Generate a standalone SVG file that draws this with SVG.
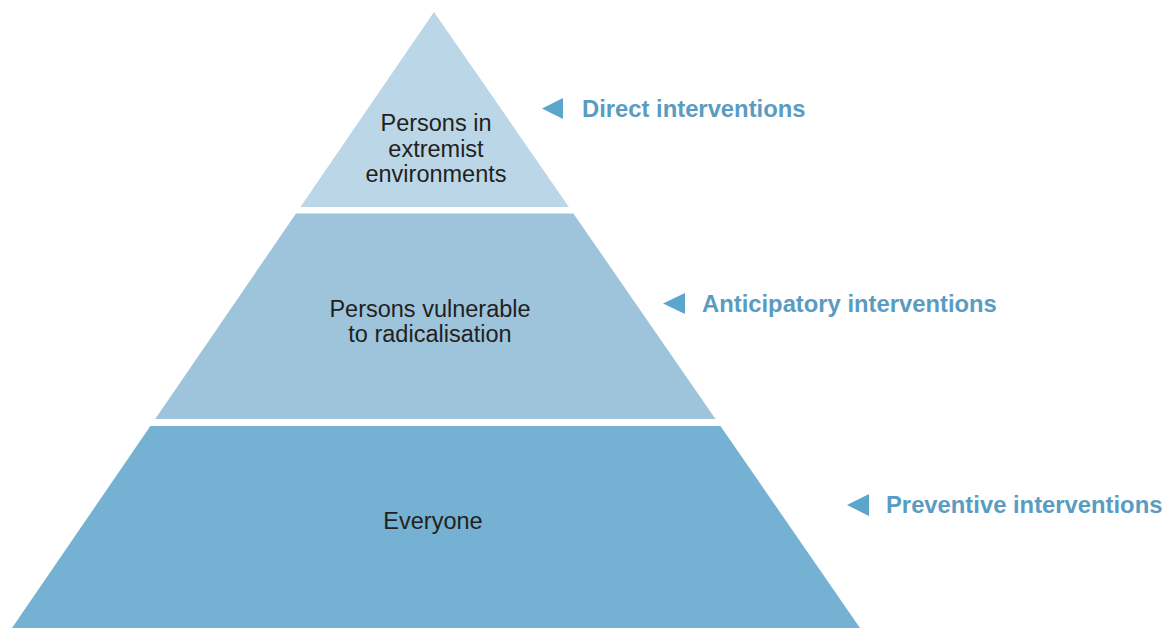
<svg xmlns="http://www.w3.org/2000/svg" width="1165" height="628" viewBox="0 0 1165 628">
<style>
.tier-text{font-family:"Liberation Sans",Arial,sans-serif;font-size:23.5px;fill:#231f20;text-anchor:middle}
.label{font-family:"Liberation Sans",Arial,sans-serif;font-size:23.8px;font-weight:bold;fill:#5a9cc1}
.arrow{fill:#5aa6cd}
</style>
<rect width="1165" height="628" fill="#ffffff"/>
<g id="tier-top">
<polygon points="434,12 568.9,207 300.4,207" fill="#bad6e7"/>
<text class="tier-text" x="436" y="131">Persons in</text>
<text class="tier-text" x="436" y="157">extremist</text>
<text class="tier-text" x="436" y="182">environments</text>
</g>
<g id="tier-middle">
<polygon points="296,213.5 573.4,213.5 715.5,419 155.2,419" fill="#9dc4db"/>
<text class="tier-text" x="430" y="317">Persons vulnerable</text>
<text class="tier-text" x="430" y="342">to radicalisation</text>
</g>
<g id="tier-bottom">
<polygon points="150.4,426 720.4,426 860,628 12,628" fill="#75b1d2"/>
<text class="tier-text" x="433" y="529">Everyone</text>
</g>
<g id="connectors">
<polygon class="arrow" points="542,108.5 563,98 563,119"/>
<polygon class="arrow" points="663,303.5 685,293 685,314"/>
<polygon class="arrow" points="847,505 869,494 869,516"/>
</g>
<g id="label-direct">
<text class="label" x="582" y="117">Direct interventions</text>
</g>
<g id="label-anticipatory">
<text class="label" x="702" y="312">Anticipatory interventions</text>
</g>
<g id="label-preventive">
<text class="label" x="886" y="513">Preventive interventions</text>
</g>
</svg>
